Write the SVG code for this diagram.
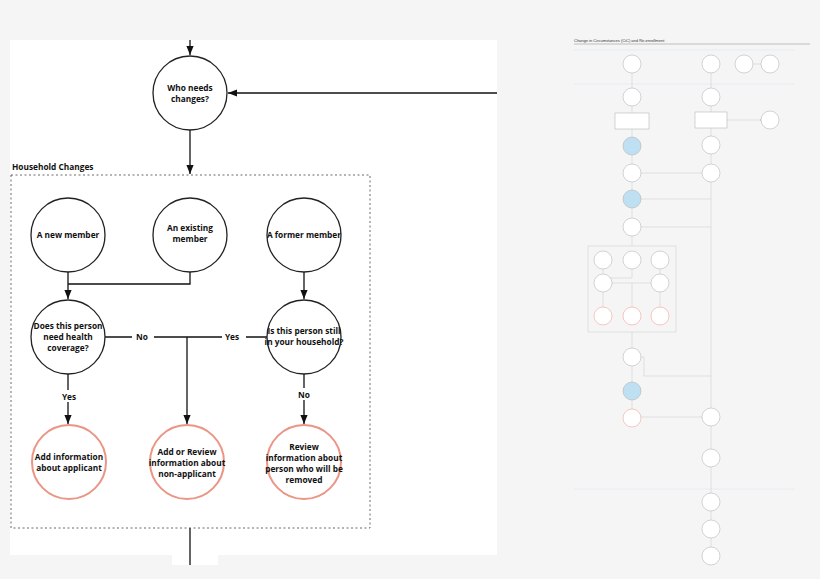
<svg xmlns="http://www.w3.org/2000/svg" width="820" height="579" viewBox="0 0 820 579">
<defs>
<marker id="a" viewBox="0 0 10 10" refX="10" refY="5" markerWidth="7" markerHeight="7" orient="auto"><path d="M0,1 L10,5 L0,9 z" fill="#111"/></marker>
<marker id="s" viewBox="0 0 10 10" refX="10" refY="5" markerWidth="3" markerHeight="3" orient="auto"><path d="M0,1 L10,5 L0,9 z" fill="#888"/></marker>
</defs>
<style>
.n{fill:#fff;stroke:#222;stroke-width:1.3}
.r{fill:#fff;stroke:#eb9585;stroke-width:2}
.t{font-family:"Open Sans","Liberation Sans",sans-serif;font-weight:bold;font-size:8.3px;fill:#111;text-anchor:middle}
.l{stroke:#111;stroke-width:1.3;fill:none}
.sn{fill:#fff;stroke:#aaa;stroke-width:0.5}
.sr{fill:#fff;stroke:#eb9585;stroke-width:0.5}
.sb{fill:#bfe0f2;stroke:#aaa;stroke-width:0.5}
.sl{stroke:#bbb;stroke-width:0.4;fill:none}
</style>
<rect width="820" height="579" fill="#f5f5f5"/>
<rect x="10" y="40" width="487" height="515" fill="#fff"/>
<rect x="172" y="555" width="46" height="10" fill="#fff"/>
<g id="connectors">
<path class="l" d="M190,40 V55" marker-end="url(#a)"/>
<path class="l" d="M497,93 H228" marker-end="url(#a)"/>
<path class="l" d="M190,130 V174" marker-end="url(#a)"/>
<path class="l" d="M68,272 V299" marker-end="url(#a)"/>
<path class="l" d="M190,272 V284 H68"/>
<path class="l" d="M304,272 V299" marker-end="url(#a)"/>
<path class="l" d="M105,337 H267"/>
<path class="l" d="M187,337 V424" marker-end="url(#a)"/>
<path class="l" d="M68,374 V424" marker-end="url(#a)"/>
<path class="l" d="M304,374 V424" marker-end="url(#a)"/>
<path class="l" d="M190,528 V565"/>
<rect x="132" y="331" width="22" height="12" fill="#fff"/>
<rect x="222" y="331" width="24" height="12" fill="#fff"/>
<rect x="56" y="390" width="24" height="12" fill="#fff"/>
<rect x="292" y="388" width="24" height="12" fill="#fff"/>
</g>
<text class="t" x="142" y="340">No</text>
<text class="t" x="232" y="340">Yes</text>
<text class="t" x="69" y="400">Yes</text>
<text class="t" x="304" y="398">No</text>
<g id="household">
<rect x="11" y="175" width="359" height="353" fill="none" stroke="#444" stroke-width="0.8" stroke-dasharray="2,2.5"/>
<text class="t" x="12" y="170" style="text-anchor:start">Household Changes</text>
</g>
<g id="who"><circle class="n" cx="190" cy="93" r="37"/><text class="t" x="190" y="91">Who needs</text><text class="t" x="190" y="102">changes?</text></g>
<g id="new"><circle class="n" cx="68" cy="235" r="37"/><text class="t" x="68" y="238">A new member</text></g>
<g id="existing"><circle class="n" cx="190" cy="235" r="37"/><text class="t" x="190" y="231">An existing</text><text class="t" x="190" y="242">member</text></g>
<g id="former"><circle class="n" cx="304" cy="235" r="37"/><text class="t" x="304" y="238">A former member</text></g>
<g id="need"><circle class="n" cx="68" cy="337" r="37"/><text class="t" x="68" y="329">Does this person</text><text class="t" x="68" y="340">need health</text><text class="t" x="68" y="351">coverage?</text></g>
<g id="still"><circle class="n" cx="304" cy="337" r="37"/><text class="t" x="304" y="334">Is this person still</text><text class="t" x="304" y="345">in your household?</text></g>
<g id="addinfo"><circle class="r" cx="69" cy="462" r="37"/><text class="t" x="69" y="460">Add information</text><text class="t" x="69" y="471">about applicant</text></g>
<g id="addreview"><circle class="r" cx="187" cy="462" r="37"/><text class="t" x="187" y="455">Add or Review</text><text class="t" x="187" y="466">information about</text><text class="t" x="187" y="477">non-applicant</text></g>
<g id="review"><circle class="r" cx="304" cy="462" r="37"/><text class="t" x="304" y="450">Review</text><text class="t" x="304" y="461">information about</text><text class="t" x="304" y="472">person who will be</text><text class="t" x="304" y="483">removed</text></g>

<g id="overview">
<text x="574" y="42" font-family="Liberation Sans,sans-serif" font-size="4" fill="#333">Change in Circumstances (CiC) and Re-enrollment</text>
<path d="M574,44 H810" stroke="#999" stroke-width="0.6"/>
<path d="M574,50 H795 M574,84 H795 M574,489 H795" stroke="#d6e7f2" stroke-width="0.5"/>
<g id="ov-conn">
<path class="sl" d="M632,73 V88 M711,73 V88 M632,106 V113 M711,106 V112 M632,129 V137 M711,128 V136 M632,155 V164 M711,154 V164 M641,173 H702 M711,182 V417 M711,199 H641 M711,227 H641 M632,182 V190 M632,208 V218 M632,236 V246 M753,64 H761 M727,120 H761" marker-end="url(#s)"/>
<path class="sl" d="M603,269 V274 M632,269 V278 H603 M660,269 V274 M612,283 H651 M632,283 V307 M603,292 V307 M660,292 V307 M632,332 V348 M632,366 V382 M632,400 V409 M641,417 H702 M711,426 V449 M711,467 V493 M711,511 V520 M711,538 V547"/>
<path class="sl" d="M641,357 H644 V376 H711"/>
</g>
<circle class="sn" cx="632" cy="64" r="9"/><circle class="sn" cx="711" cy="64" r="9"/><circle class="sn" cx="744" cy="64" r="9"/><circle class="sn" cx="770" cy="64" r="9"/>
<circle class="sn" cx="632" cy="97" r="9"/><circle class="sn" cx="711" cy="97" r="9"/>
<rect class="sn" x="615" y="113" width="34" height="16"/><rect class="sn" x="695" y="112" width="32" height="16"/><circle class="sn" cx="770" cy="120" r="9"/>
<circle class="sb" cx="632" cy="146" r="9"/><circle class="sn" cx="711" cy="145" r="9"/>
<circle class="sn" cx="632" cy="173" r="9"/><circle class="sn" cx="711" cy="173" r="9"/>
<circle class="sb" cx="632" cy="199" r="9"/><circle class="sn" cx="632" cy="227" r="9"/>
<rect x="588" y="246" width="88" height="86" fill="none" stroke="#ccc" stroke-width="0.5"/>
<circle class="sn" cx="603" cy="260" r="9"/><circle class="sn" cx="632" cy="260" r="9"/><circle class="sn" cx="660" cy="260" r="9"/>
<circle class="sn" cx="603" cy="283" r="9"/><circle class="sn" cx="660" cy="283" r="9"/>
<circle class="sr" cx="603" cy="316" r="9"/><circle class="sr" cx="632" cy="316" r="9"/><circle class="sr" cx="660" cy="316" r="9"/>
<circle class="sn" cx="632" cy="357" r="9"/><circle class="sb" cx="632" cy="391" r="9"/><circle class="sr" cx="632" cy="418" r="9"/>
<circle class="sn" cx="711" cy="417" r="9"/><circle class="sn" cx="711" cy="458" r="9"/>
<circle class="sn" cx="711" cy="502" r="9"/><circle class="sn" cx="711" cy="529" r="9"/><circle class="sn" cx="711" cy="556" r="9"/>
</g>
</svg>
